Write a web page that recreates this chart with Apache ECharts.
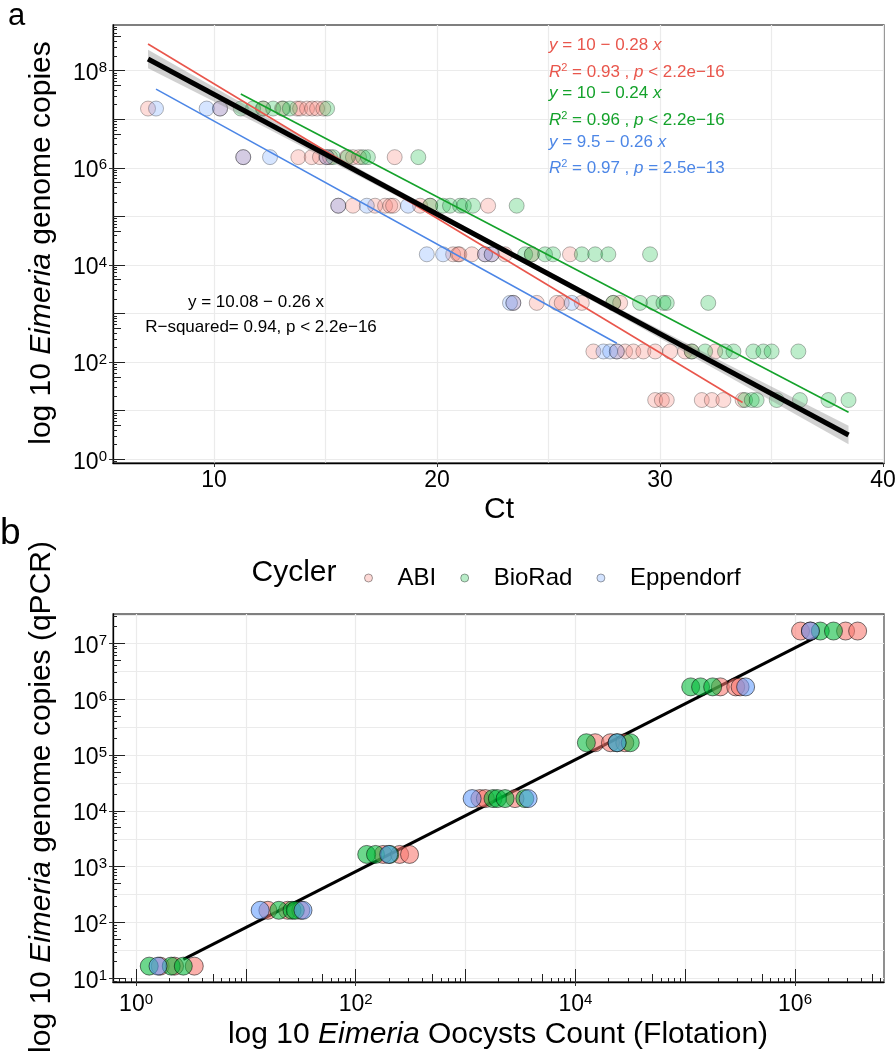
<!DOCTYPE html>
<html>
<head>
<meta charset="utf-8">
<script src="https://cdn.jsdelivr.net/npm/echarts@6/dist/echarts.min.js"></script>
<style>
  html, body { margin: 0; background: #fff; }
  #chart { width: 896px; height: 1061px; }
</style>
</head>
<body>
<div id="chart"></div>
<script>
// rows: log10 genome copies of each standard dilution
const copyLog = [7.22, 6.22, 5.22, 4.22, 3.22, 2.22, 1.22]

const cyclers = ['ABI', 'BioRad', 'Eppendorf']

// panel a: Ct read for every row (same order as copyLog)
const abiCt = [
  [7.04, 10.27, 12.2, 13.05, 13.72, 13.86, 14.17, 14.4, 14.62, 14.9],
  [11.31, 13.78, 14.38, 14.75, 15.05, 15.2, 15.95, 16.23, 16.5, 18.1],
  [15.57, 16.23, 17.22, 17.67, 17.9, 18.03, 19.24, 19.69, 22.29],
  [20.72, 20.94, 21.0, 21.56, 22.15, 22.45, 23.05, 24.25, 25.96],
  [23.42, 24.47, 25.37, 25.59, 26.49, 27.9, 28.21],
  [27.01, 28.06, 28.43, 28.8, 29.25, 29.78, 30.45, 31.12, 31.42, 32.47],
  [29.78, 30.08, 30.3, 31.87, 32.32, 32.84, 33.7]
]
const bioCt = [
  [11.2, 11.75, 12.2, 12.65, 13.1, 13.4, 15.07],
  [15.34, 16.0, 16.68, 16.9, 19.16],
  [19.69, 20.27, 20.58, 21.03, 21.2, 21.61, 23.57],
  [23.95, 24.25, 24.84, 25.2, 26.49, 27.09, 27.68, 29.55],
  [27.9, 29.1, 29.7, 30.15, 30.3, 32.16],
  [31.42, 32.02, 32.91, 33.29, 34.18, 34.63, 35.0, 36.2],
  [33.81, 34.11, 34.33, 35.23, 36.27, 37.55, 38.45]
]
const eppCt = [
  [7.4, 9.67, 10.27],
  [11.31, 12.51, 15.05],
  [15.57, 16.85, 18.7],
  [19.54, 20.27, 22.15, 22.45],
  [23.27, 23.42, 26.04],
  [27.46, 27.76, 28.06],
  []
]

// per-cycler regression lines [Ct, log10 copies] at both ends
const abiFit = [[7.04, 8.55], [33.7, 1.17]]
const bioFit = [[11.2, 7.52], [38.45, 0.97]]
const eppFit = [[7.4, 7.62], [28.06, 2.39]]
// pooled fit and its confidence band
const allFit = [[7.04, 8.24], [38.45, 0.5]]
const bandCt = [7.04, 12, 17, 22.7, 28, 33, 38.45]
const bandLo = [8.05, 6.9, 5.71, 4.33, 3.0, 1.72, 0.31]
const bandHi = [8.43, 7.14, 5.86, 4.43, 3.14, 1.96, 0.69]

const fitLabels = [
  ['{i|y} = 10 − 0.28 {i|x}', '{i|R}{s|2} = 0.93 , {i|p} < 2.2e−16'],
  ['{i|y} = 10 − 0.24 {i|x}', '{i|R}{s|2} = 0.96 , {i|p} < 2.2e−16'],
  ['{i|y} = 9.5 − 0.26 {i|x}', '{i|R}{s|2} = 0.97 , {i|p} = 2.5e−13']
]
const pooledLabel = ['y = 10.08 − 0.26 x', 'R−squared= 0.94, p < 2.2e−16']

// panel b: log10 oocyst count (flotation) for every row
const abiFlot = [
  [6.05, 6.14, 6.46, 6.57],
  [5.32, 5.46, 5.5],
  [4.18, 4.32, 4.45],
  [3.13, 3.18, 3.45],
  [2.25, 2.4, 2.49],
  [1.2, 1.38, 1.5],
  [0.22, 0.35, 0.53]
]
const bioFlot = [
  [6.23, 6.35],
  [5.05, 5.14, 5.25],
  [4.1, 4.38, 4.5],
  [3.25, 3.29, 3.36, 3.54],
  [2.1, 2.18, 2.31],
  [1.3, 1.42, 1.45],
  [0.12, 0.32, 0.43]
]
const eppFlot = [
  [6.14],
  [5.55],
  [4.38],
  [3.06, 3.57],
  [2.3],
  [1.13, 1.52],
  [0.2]
]
const flotFit = [[0.43, 1.34], [6.2, 7.12]]

const FONT = '"Liberation Sans", Arial, Helvetica, sans-serif'
const rgb = [[248, 118, 109], [0, 186, 56], [97, 156, 255]]
const lineColors = ['#E9564C', '#14A22B', '#4C86E6']
const rgba = (c, a) => 'rgba(' + c.join(',') + ',' + a + ')'

// axis ranges (log10 space for the log axes)
const aX = [5.47, 40.04]
const aY = [-0.076, 8.94]
const bX = [-0.21, 6.81]
const bY = [0.936, 7.525]

function toPoints(vals) {
  const out = []
  vals.forEach((row, i) => row.forEach(v => out.push([v, copyLog[i]])))
  return out
}

function logTicks(range, mults) {
  const out = []
  for (let k = Math.floor(range[0]); k <= Math.ceil(range[1]); k++) {
    mults.forEach(m => {
      const v = +(k + Math.log10(m)).toFixed(4)
      if (v >= range[0] && v <= range[1]) out.push(v)
    })
  }
  return out
}

const supRich = {
  b: { fontFamily: FONT, fontSize: 23, lineHeight: 26, color: '#000' },
  s: { fontFamily: FONT, fontSize: 15, lineHeight: 10, verticalAlign: 'top', color: '#000' }
}
const pow10 = v => '{b|10}{s|' + Math.round(v) + '}'

function mainAxis(gridIndex, range, position, values, fmt, margin, padding) {
  return {
    type: 'value', gridIndex, min: range[0], max: range[1], position,
    axisLine: { show: true, onZero: false, lineStyle: { color: '#000', width: 1.3 } },
    axisTick: { show: true, inside: false, length: 4, customValues: values, lineStyle: { color: '#333', width: 1 } },
    axisLabel: {
      customValues: values, formatter: fmt, margin, padding, color: '#000',
      fontFamily: FONT, fontSize: 23, rich: supRich
    },
    splitLine: { show: false }
  }
}

function tickAxis(gridIndex, range, position, values, len, split) {
  return {
    type: 'value', gridIndex, min: range[0], max: range[1], position,
    axisLine: { show: false, onZero: false },
    axisLabel: { show: false },
    axisTick: { show: len > 0, inside: true, length: len, customValues: values, lineStyle: { color: '#222', width: 1 } },
    splitLine: { show: !!split, lineStyle: { color: '#EBEBEB', width: 1.2 } }
  }
}

const DEC = [1], MID = [5], SHORT = [2, 3, 4, 6, 7, 8, 9]

const xAxis = [
  mainAxis(0, aX, 'bottom', [10, 20, 30, 40], v => String(v), 6),
  tickAxis(0, aX, 'bottom', [10, 15, 20, 25, 30, 35, 40], 0, true),
  mainAxis(1, bX, 'bottom', [0, 2, 4, 6], pow10, 10),
  tickAxis(1, bX, 'bottom', logTicks(bX, DEC), 13, true),
  tickAxis(1, bX, 'bottom', logTicks(bX, MID), 8),
  tickAxis(1, bX, 'bottom', logTicks(bX, SHORT), 4)
]
const yAxis = [
  mainAxis(0, aY, 'left', [0, 2, 4, 6, 8], pow10, 6, [6, 0, 0, 0]),
  tickAxis(0, aY, 'left', logTicks(aY, DEC), 12, true),
  tickAxis(0, aY, 'left', logTicks(aY, MID), 8),
  tickAxis(0, aY, 'left', logTicks(aY, SHORT), 4),
  mainAxis(1, bY, 'left', [1, 2, 3, 4, 5, 6, 7], pow10, 6, [6, 0, 0, 0]),
  tickAxis(1, bY, 'left', logTicks(bY, DEC), 12, true),
  tickAxis(1, bY, 'left', [1.5, 2.5, 3.5, 4.5, 5.5, 6.5, 7.5], 0, true),
  tickAxis(1, bY, 'left', logTicks(bY, MID), 8),
  tickAxis(1, bY, 'left', logTicks(bY, SHORT), 4)
]

const topSets = [abiCt, bioCt, eppCt]
const botSets = [abiFlot, bioFlot, eppFlot]
const fits = [abiFit, bioFit, eppFit]

const series = []
topSets.forEach((set, i) => series.push({
  name: cyclers[i], type: 'scatter', xAxisIndex: 0, yAxisIndex: 0,
  data: toPoints(set), symbolSize: 15, z: 2,
  itemStyle: { color: rgba(rgb[i], 0.32), borderColor: 'rgba(0,0,0,0.35)', borderWidth: 1 }
}))
series.push({
  type: 'custom', xAxisIndex: 0, yAxisIndex: 0, z: 3, silent: true,
  data: [[bandCt[0], bandLo[0]]],
  renderItem: (params, api) => {
    const up = bandCt.map((x, i) => api.coord([x, bandHi[i]]))
    const lo = bandCt.map((x, i) => api.coord([x, bandLo[i]])).reverse()
    return { type: 'polygon', shape: { points: up.concat(lo) }, style: { fill: 'rgba(140,140,140,0.4)' } }
  }
})
fits.forEach((f, i) => series.push({
  type: 'line', xAxisIndex: 0, yAxisIndex: 0, data: f, symbol: 'none', z: 4, silent: true,
  lineStyle: { color: lineColors[i], width: 1.6 }
}))
series.push({
  type: 'line', xAxisIndex: 0, yAxisIndex: 0, data: allFit, symbol: 'none', z: 5, silent: true,
  lineStyle: { color: '#000', width: 5 }
})
series.push({
  type: 'line', xAxisIndex: 2, yAxisIndex: 4, data: flotFit, symbol: 'none', z: 1, silent: true,
  lineStyle: { color: '#000', width: 3 }
})
botSets.forEach((set, i) => series.push({
  name: cyclers[i], type: 'scatter', xAxisIndex: 2, yAxisIndex: 4,
  data: toPoints(set), symbolSize: 18, z: 2,
  itemStyle: { color: rgba(rgb[i], 0.72), borderColor: 'rgba(0,0,0,0.65)', borderWidth: 1 }
}))

function txt(x, y, text, size, opts) {
  const o = opts || {}
  const align = o.align || 'center'
  const rich = {
    i: { fontFamily: FONT, fontSize: size, fontStyle: 'italic', fill: o.color || '#000', color: o.color || '#000', lineHeight: size + 3 },
    s: { fontFamily: FONT, fontSize: Math.round(size * 0.65), fill: o.color || '#000', color: o.color || '#000', lineHeight: 8, verticalAlign: 'top' }
  }
  return {
    type: 'text', x, y, z: 100, rotation: o.rotation || 0, silent: true,
    style: {
      text, fontFamily: FONT, fontSize: size, fill: o.color || '#000', lineHeight: size + 3,
      align, verticalAlign: 'middle', textAlign: align, textVerticalAlign: 'middle', rich
    }
  }
}

const graphic = [
  txt(8, 16, 'a', 31, { align: 'left' }),
  txt(0, 534, 'b', 37, { align: 'left' }),
  txt(42, 243, 'log 10 {i|Eimeria} genome copies', 30, { rotation: Math.PI / 2 }),
  txt(499, 510, 'Ct', 30),
  txt(42, 797, 'log 10 {i|Eimeria} genome copies (qPCR)', 30, { rotation: Math.PI / 2 }),
  txt(498, 1035, 'log 10 {i|Eimeria} Oocysts Count (Flotation)', 30),
  txt(294, 573, 'Cycler', 30),
  txt(256, 302, pooledLabel[0], 17),
  txt(261, 327, pooledLabel[1], 17)
]
const labelY = [[45, 72], [93, 120], [142, 168]]
fitLabels.forEach((pair, i) => {
  graphic.push(txt(549, labelY[i][0], pair[0], 17, { align: 'left', color: lineColors[i] }))
  graphic.push(txt(549, labelY[i][1], pair[1], 17, { align: 'left', color: lineColors[i] }))
})

const chart = echarts.init(document.getElementById('chart'), null, { renderer: 'canvas' })
chart.setOption({
  animation: false,
  backgroundColor: '#fff',
  grid: [
    { left: 113, top: 25, width: 771, height: 438, show: true, borderColor: '#555', borderWidth: 1.3, containLabel: false, outerBoundsMode: 'none' },
    { left: 113, top: 614, width: 771, height: 368, show: true, borderColor: '#555', borderWidth: 1.3, containLabel: false, outerBoundsMode: 'none' }
  ],
  legend: {
    left: 359, top: 560, itemWidth: 48, itemHeight: 8, itemGap: 24, icon: 'circle', selectedMode: false,
    textStyle: { fontFamily: FONT, fontSize: 24, lineHeight: 26, color: '#000' },
    data: cyclers.map((c, i) => ({
      name: c,
      itemStyle: { color: rgba(rgb[i], 0.35), borderColor: 'rgba(0,0,0,0.45)', borderWidth: 1 }
    }))
  },
  xAxis,
  yAxis,
  series,
  graphic
})
</script>
</body>
</html>
